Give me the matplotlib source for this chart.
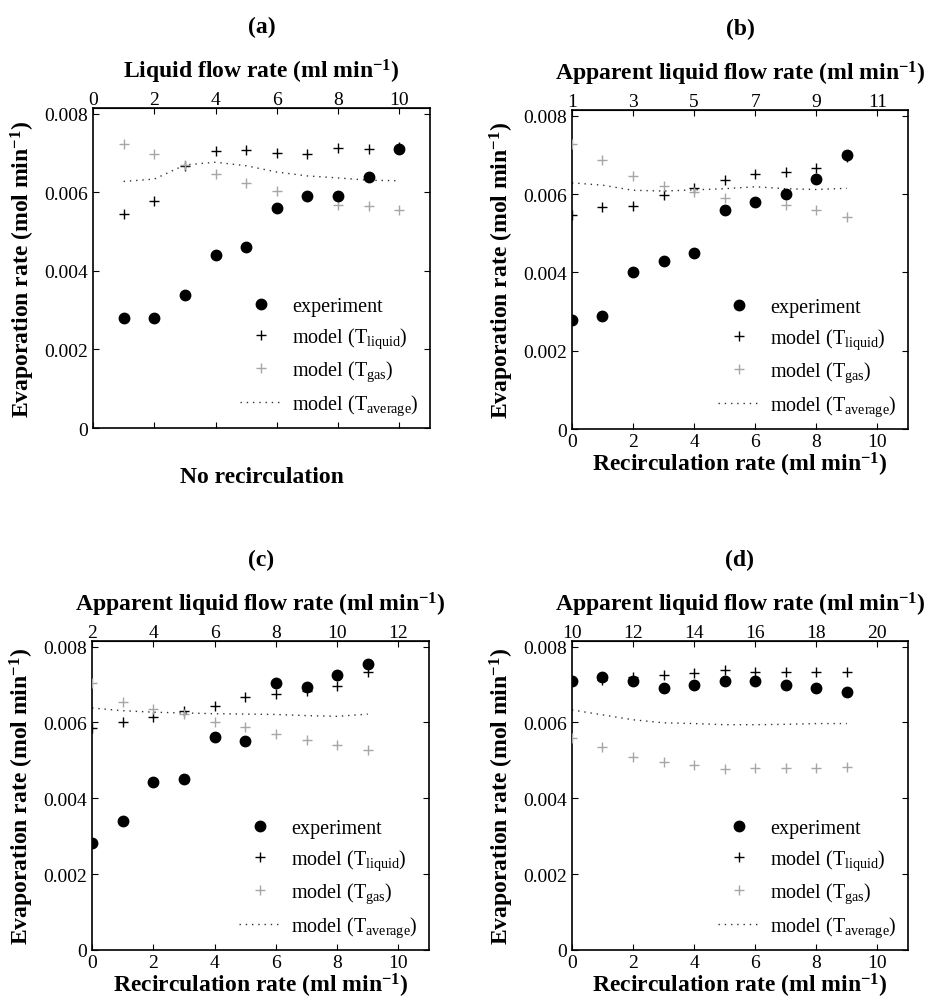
import matplotlib
matplotlib.use('Agg')
import matplotlib.pyplot as plt
import numpy as np

plt.rcParams['font.family'] = 'Liberation Serif'
plt.rcParams['mathtext.fontset'] = 'custom'
plt.rcParams['mathtext.rm'] = 'Liberation Serif'
plt.rcParams['mathtext.bf'] = 'Liberation Serif:bold'
plt.rcParams['mathtext.it'] = 'Liberation Serif:italic'

# ---- data ----
# (a) no recirculation, x = liquid flow rate
a_x = [1, 2, 3, 4, 5, 6, 7, 8, 9, 10]
a_exp = [0.0028, 0.0028, 0.0034, 0.0044, 0.0046, 0.0056, 0.0059, 0.0059, 0.0064, 0.0071]
a_liq = [0.00545, 0.00578, 0.00668, 0.00705, 0.00709, 0.00701, 0.00699, 0.00713, 0.00711, 0.00717]
a_gas = [0.00723, 0.00697, 0.00671, 0.00648, 0.00625, 0.00604, 0.00588, 0.00568, 0.00565, 0.00555]
a_avg = [0.00628, 0.00634, 0.00670, 0.00677, 0.00668, 0.00652, 0.00642, 0.00637, 0.00631, 0.00630]

# (b), (c), (d): x = recirculation rate
r_x = [0, 1, 2, 3, 4, 5, 6, 7, 8, 9]

b_exp = [0.00279, 0.00288, 0.00400, 0.00430, 0.00450, 0.00560, 0.00580, 0.00600, 0.00640, 0.00700]
b_liq = [0.00548, 0.00566, 0.00570, 0.00597, 0.00616, 0.00636, 0.00652, 0.00657, 0.00667, 0.00695]
b_gas = [0.00728, 0.00688, 0.00647, 0.00622, 0.00605, 0.00590, 0.00580, 0.00573, 0.00560, 0.00541]
b_avg = [0.00629, 0.00623, 0.00610, 0.00608, 0.00611, 0.00614, 0.00619, 0.00614, 0.00612, 0.00615]

c_exp = [0.00282, 0.00341, 0.00442, 0.00452, 0.00562, 0.00552, 0.00704, 0.00694, 0.00724, 0.00754]
c_liq = [0.00585, 0.00601, 0.00615, 0.00631, 0.00644, 0.00666, 0.00675, 0.00684, 0.00697, 0.00734]
c_gas = [0.00705, 0.00653, 0.00636, 0.00621, 0.00601, 0.00589, 0.00569, 0.00553, 0.00540, 0.00528]
c_avg = [0.00638, 0.00631, 0.00627, 0.00625, 0.00623, 0.00622, 0.00621, 0.00618, 0.00616, 0.00622]

d_exp = [0.0071, 0.0072, 0.0071, 0.0069, 0.0070, 0.0071, 0.0071, 0.0070, 0.0069, 0.0068]
d_liq = [0.00710, 0.00712, 0.00720, 0.00725, 0.00731, 0.00738, 0.00734, 0.00734, 0.00734, 0.00734]
d_gas = [0.00558, 0.00536, 0.00508, 0.00496, 0.00487, 0.00478, 0.00479, 0.00479, 0.00481, 0.00483]
d_avg = [0.00633, 0.00620, 0.00607, 0.00599, 0.00597, 0.00594, 0.00594, 0.00595, 0.00597, 0.00597]

yticks = [0, 0.002, 0.004, 0.006, 0.008]
ytick_labels = ['0', '0.002', '0.004', '0.006', '0.008']

grey = '#a6a6a6'
sup = r'$^{\mathbf{-1}}$'

fig = plt.figure(figsize=(9.3, 10.04), dpi=100)


def panel(rect, x, exp, liq, gas, avg, offset, top_ticks, letter, bottom_label):
    ax = fig.add_axes(rect)
    ax.plot(x, exp, 'o', color='black', markersize=7.5, label='experiment', zorder=4)
    ax.plot(x, liq, '+', color='black', markersize=7, markeredgewidth=1.0,
            label=r'model (T$_{\mathrm{liquid}}$)', zorder=3)
    ax.plot(x, gas, '+', color=grey, markersize=7, markeredgewidth=1.0,
            label=r'model (T$_{\mathrm{gas}}$)', zorder=3)
    ax.plot(x, avg, color='#333333', linestyle=(0, (1, 3.5)), linewidth=1.0,
            label=r'model (T$_{\mathrm{average}}$)', zorder=2)

    ax.set_xlim(0, 11)
    ax.set_ylim(0, 0.00815)
    ax.set_xticks([0, 2, 4, 6, 8, 10])
    ax.set_yticks(yticks)
    ax.set_yticklabels(ytick_labels)
    ax.tick_params(direction='in', length=4, top=False, right=True, labelsize=14)
    ax.tick_params(axis='x', pad=3)
    for s in ax.spines.values():
        s.set_linewidth(1.2)

    sec = ax.secondary_xaxis('top', functions=(lambda v: v + offset, lambda v: v - offset))
    sec.set_xticks(top_ticks)
    sec.tick_params(direction='in', length=4, labelsize=14, pad=0)
    sec.set_xlabel('Apparent liquid flow rate (ml min' + sup + ')' if offset else
                   'Liquid flow rate (ml min' + sup + ')',
                   fontsize=17, fontweight='bold', labelpad=10)

    if bottom_label is None:
        ax.tick_params(labelbottom=False)
        ax.set_xlabel('No recirculation', fontsize=17, fontweight='bold', labelpad=27)
    else:
        ax.set_xlabel(bottom_label, fontsize=17, fontweight='bold', labelpad=0)

    ax.set_ylabel('Evaporation rate (mol min' + sup + ')', fontsize=17,
                  fontweight='bold', labelpad=5)

    ax.legend(loc='lower right', frameon=False, fontsize=14.5, handlelength=2.1,
              handletextpad=0.5, labelspacing=0.45, borderaxespad=0.15)

    pos = ax.get_position()
    fig.text(pos.x0 + pos.width / 2, pos.y1 + 0.081, '(' + letter + ')',
             ha='center', va='center', fontsize=17, fontweight='bold')
    return ax


recirc_label = 'Recirculation rate (ml min' + sup + ')'

panel([0.100, 0.5727, 0.3624, 0.3187], a_x, a_exp, a_liq, a_gas, a_avg, 0,
      [0, 2, 4, 6, 8, 10], 'a', None)
panel([0.615, 0.5717, 0.3613, 0.3177], r_x, b_exp, b_liq, b_gas, b_avg, 1,
      [1, 3, 5, 7, 9, 11], 'b', recirc_label)
panel([0.099, 0.0530, 0.3624, 0.3076], r_x, c_exp, c_liq, c_gas, c_avg, 2,
      [2, 4, 6, 8, 10, 12], 'c', recirc_label)
panel([0.615, 0.0530, 0.3613, 0.3076], r_x, d_exp, d_liq, d_gas, d_avg, 10,
      [10, 12, 14, 16, 18, 20], 'd', recirc_label)

plt.savefig('out.png', dpi=100)
